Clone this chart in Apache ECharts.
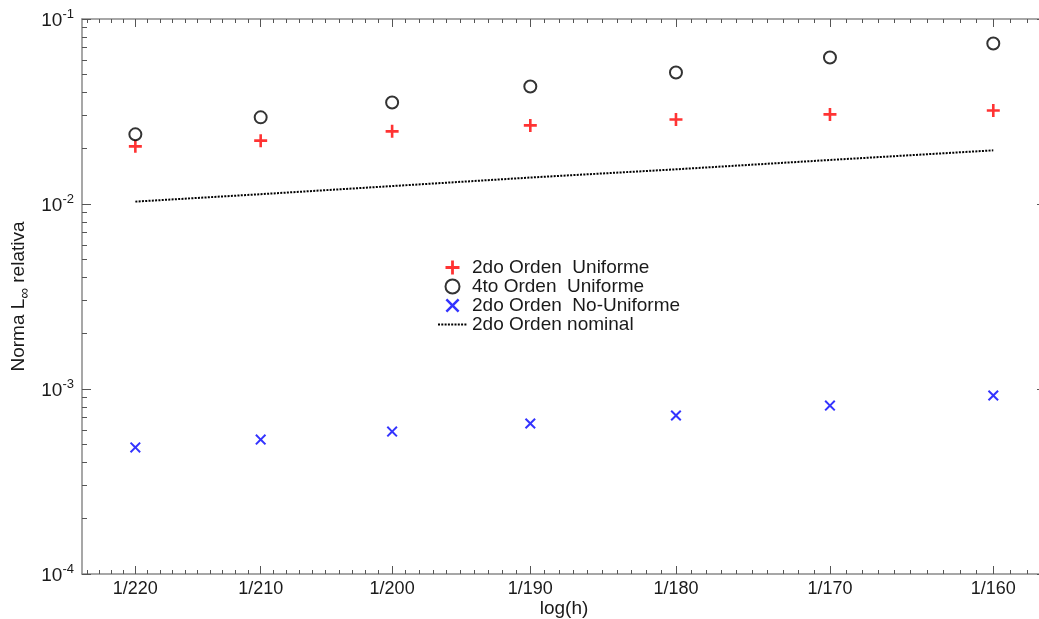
<!DOCTYPE html>
<html>
<head>
<meta charset="utf-8">
<script src="https://cdn.jsdelivr.net/npm/echarts@6/dist/echarts.min.js"></script>
<style>
  html, body { margin: 0; padding: 0; background: #fff; }
  #chart-container { width: 1039px; height: 619px; }
</style>
</head>
<body>
<div id="chart-container"></div>
<script>
// denominators of h (x = 1/N)
const hDen = [220, 210, 200, 190, 180, 170, 160];
const hLabels = ["1/220", "1/210", "1/200", "1/190", "1/180", "1/170", "1/160"];

const orden2Uniforme = [0.0205, 0.0220, 0.0247, 0.0266, 0.0286, 0.0305, 0.0320];
const orden4Uniforme = [0.0238, 0.0294, 0.0354, 0.0432, 0.0514, 0.0619, 0.0737];
const orden2NoUniforme = [0.000483, 0.000533, 0.000589, 0.000651, 0.000719, 0.000814, 0.000922];
const orden2Nominal = [0.0103, 0.0113, 0.0125, 0.0139, 0.0154, 0.0173, 0.0195];

const seriesNames = [
  "2do Orden  Uniforme",
  "4to Orden  Uniforme",
  "2do Orden  No-Uniforme",
  "2do Orden nominal",
];

const xMin = 1 / 224.4;
const xMax = 1 / 156.9;

// tick positions
const majorX = hDen.map((d) => 1 / d);
const minorX = [];
for (let n = 157; n <= 224; n++) {
  if (n % 10 !== 0) minorX.push(1 / n);
}
const minorY = [];
for (let e = -4; e < -1; e++) {
  for (let k = 2; k <= 9; k++) minorY.push(k * Math.pow(10, e));
}

const pairs = (arr) => hDen.map((d, i) => [1 / d, arr[i]]);

const FONT = "'Liberation Sans', Arial, Helvetica, sans-serif";
const TXT = "#1a1a1a";
const axisLineStyle = { color: "#8a8a8a", width: 1.5 };
const tickStyle = { color: "#555", width: 1 };

const plusPath = "path://M-1.3,-6.5H1.3V-1.3H6.5V1.3H1.3V6.5H-1.3V1.3H-6.5V-1.3H-1.3Z";
const crossPath =
  "path://M-5.5,-4.1L-4.1,-5.5L0,-1.4L4.1,-5.5L5.5,-4.1L1.4,0L5.5,4.1L4.1,5.5L0,1.4L-4.1,5.5L-5.5,4.1L-1.4,0Z";

function xAxisDef(pos, major) {
  return {
    type: "log",
    position: pos,
    min: xMin,
    max: xMax,
    axisLine: { show: major, onZero: false, lineStyle: axisLineStyle },
    axisTick: {
      show: true,
      inside: true,
      length: major ? 8 : 4,
      customValues: major ? majorX : minorX,
      lineStyle: tickStyle,
    },
    axisLabel: { show: false },
    splitLine: { show: false },
    minorTick: { show: false },
  };
}

function yAxisDef(pos, major) {
  return {
    type: "log",
    logBase: 10,
    position: pos,
    min: 1e-4,
    max: 1e-1,
    axisLine: { show: major, onZero: false, lineStyle: axisLineStyle },
    axisTick: major
      ? { show: true, inside: true, length: 9, lineStyle: tickStyle }
      : { show: true, inside: true, length: 5, customValues: minorY, lineStyle: tickStyle },
    axisLabel: { show: false },
    splitLine: { show: false },
    minorTick: { show: false },
  };
}

const xBottom = xAxisDef("bottom", true);
xBottom.axisLabel = {
  show: true,
  customValues: majorX,
  formatter: (v) => "1/" + Math.round(1 / v),
  margin: 6,
  fontSize: 18,
  fontFamily: FONT,
  color: TXT,
};
xBottom.name = "log(h)";
xBottom.nameLocation = "middle";
xBottom.nameGap = 25;
xBottom.nameMoveOverlap = false;
xBottom.nameTextStyle = { fontSize: 19, fontFamily: FONT, color: TXT };

const yLeft = yAxisDef("left", true);
yLeft.axisLabel = {
  show: true,
  margin: 8,
  formatter: (v) => "{b|10}{s|" + Math.round(Math.log10(v)) + "}",
  rich: {
    b: { fontSize: 19, fontFamily: FONT, color: TXT, lineHeight: 22, verticalAlign: "bottom" },
    s: { fontSize: 13, fontFamily: FONT, color: TXT, lineHeight: 22, verticalAlign: "top" },
  },
};
yLeft.name = "Norma L{sub|∞} relativa";
yLeft.nameLocation = "middle";
yLeft.nameRotate = 90;
yLeft.nameGap = 50;
yLeft.nameMoveOverlap = false;
yLeft.nameTextStyle = {
  fontSize: 19,
  fontFamily: FONT,
  color: TXT,
  lineHeight: 26,
  rich: {
    sub: { fontSize: 15, fontFamily: FONT, color: TXT, lineHeight: 26, verticalAlign: "bottom" },
  },
};

const dom = document.getElementById("chart-container");
const myChart = echarts.init(dom, null, { renderer: "canvas" });

const option = {
  animation: false,
  backgroundColor: "#fff",
  grid: { left: 82, top: 19, right: -7, bottom: 45, outerBoundsMode: "none", containLabel: false },
  legend: {
    orient: "vertical",
    left: 437,
    top: 258,
    padding: 0,
    itemWidth: 29,
    itemHeight: 14,
    itemGap: 0,
    selectedMode: false,
    data: [
      seriesNames[0],
      seriesNames[1],
      seriesNames[2],
      { name: seriesNames[3], itemStyle: { color: "rgba(0,0,0,0)", borderWidth: 0 } },
    ],
    textStyle: { fontSize: 19, fontFamily: FONT, color: TXT },
  },
  xAxis: [xBottom, xAxisDef("bottom", false), xAxisDef("top", true), xAxisDef("top", false)],
  yAxis: [yLeft, yAxisDef("left", false), yAxisDef("right", true), yAxisDef("right", false)],
  series: [
    {
      name: seriesNames[0],
      type: "scatter",
      symbol: plusPath,
      symbolSize: 13,
      symbolKeepAspect: true,
      itemStyle: { color: "#ff0000" },
      data: pairs(orden2Uniforme),
    },
    {
      name: seriesNames[1],
      type: "scatter",
      symbol: "emptyCircle",
      symbolSize: 12,
      itemStyle: { color: "#000" },
      data: pairs(orden4Uniforme),
    },
    {
      name: seriesNames[2],
      type: "scatter",
      symbol: crossPath,
      symbolSize: 11,
      symbolKeepAspect: true,
      itemStyle: { color: "#0000ff" },
      data: pairs(orden2NoUniforme),
    },
    {
      name: seriesNames[3],
      type: "line",
      symbol: "none",
      showSymbol: false,
      lineStyle: { color: "#000", width: 2, type: [2, 1.3] },
      itemStyle: { color: "#000" },
      data: pairs(orden2Nominal),
    },
  ],
};

myChart.setOption(option);
window.addEventListener("resize", myChart.resize);
</script>
</body>
</html>
